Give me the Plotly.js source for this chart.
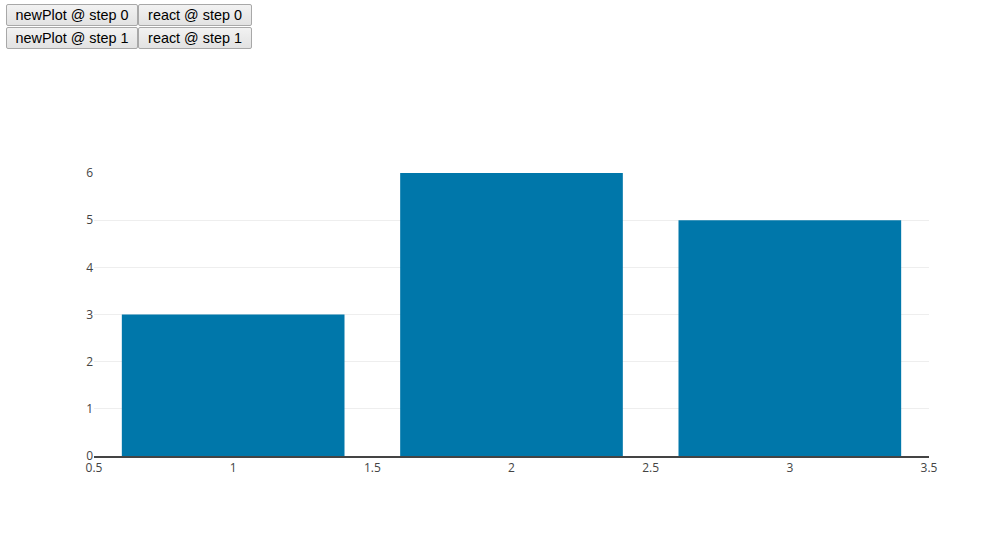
<!DOCTYPE html>
<html>
<head>
<meta charset="utf-8">
<script src="https://cdn.plot.ly/plotly-3.0.1.min.js"></script>
<style>
  body { margin: 0; padding: 0; background: #fff; }
  #btns { position: absolute; left: 6px; top: 4px; z-index: 10; width: 300px; }
  #btns .row { white-space: nowrap; height: 23px; }
  #btns button { font-family: "Liberation Sans", Arial, sans-serif; font-size: 14.4px; color: #000; height: 22px; padding: 0 6px; margin: 0; white-space: nowrap; vertical-align: top;
    background: linear-gradient(#f2f2f2, #e2e2e2); border: 1px solid #a8a8a8; border-radius: 2px; }
  #plot { position: absolute; left: 0; top: 0; width: 991px; height: 539px; }
</style>
</head>
<body>
<div id="plot"></div>
<div id="btns">
  <div class="row"><button style="width:132px">newPlot @ step 0</button><button style="width:114px">react @ step 0</button></div>
  <div class="row"><button style="width:132px">newPlot @ step 1</button><button style="width:114px">react @ step 1</button></div>
</div>
<script>
const categories = [1, 2, 3];
const values = [3, 6, 5];
const xTicks = [0.5, 1, 1.5, 2, 2.5, 3, 3.5];

Plotly.newPlot('plot', [{
  type: 'bar',
  x: categories,
  y: values,
  marker: { color: 'rgb(0,119,170)' }
}], {
  width: 991,
  height: 539,
  margin: { l: 94, r: 62, t: 173, b: 83, pad: 0 },
  font: { family: '"Open Sans", sans-serif', size: 12, color: '#444' },
  xaxis: { range: [0.5, 3.5], tickvals: xTicks, showgrid: false, zeroline: false, showline: true, linecolor: '#444', linewidth: 2 },
  yaxis: { range: [0, 6], dtick: 1, gridcolor: '#eee', zeroline: false },
  bargap: 0.2,
  showlegend: false,
  paper_bgcolor: '#fff',
  plot_bgcolor: '#fff'
}, { displayModeBar: false });
</script>
</body>
</html>
